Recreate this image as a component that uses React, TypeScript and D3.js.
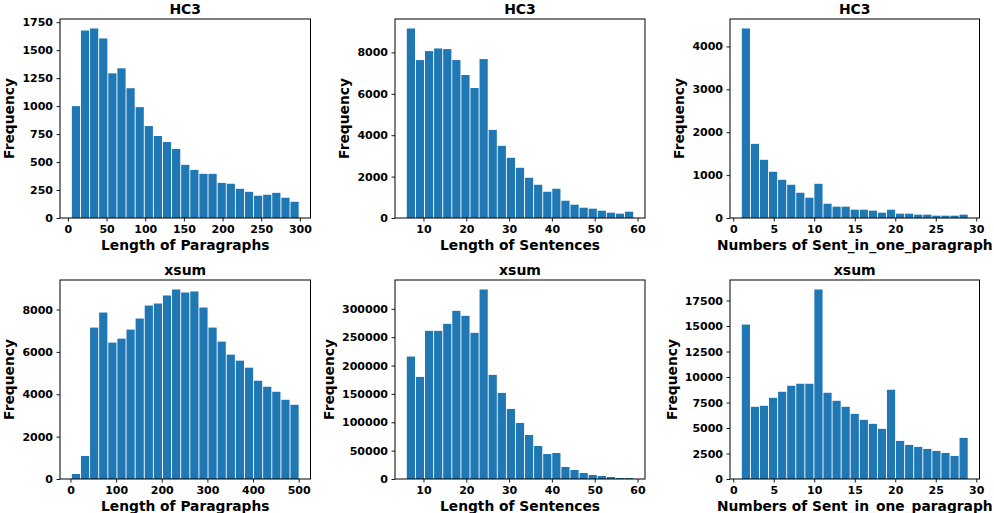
import React, { useEffect, useRef } from 'react';
import * as d3 from 'd3';

// histogram counts (25 bins each)
const hc3ParagraphCounts = [1000, 1676, 1694, 1605, 1293, 1338, 1160, 991, 822, 733, 679, 617, 475, 430, 395, 395, 314, 306, 261, 234, 199, 208, 225, 181, 145];
const hc3SentenceCounts = [9157, 7630, 8064, 8193, 8161, 7630, 6908, 6281, 7679, 4257, 3486, 2908, 2426, 1944, 1606, 1269, 1414, 835, 643, 498, 450, 353, 257, 209, 305];
const hc3SentPerParaCounts = [4419, 1729, 1357, 1078, 891, 775, 589, 473, 798, 333, 264, 264, 194, 194, 171, 124, 194, 101, 101, 78, 78, 54, 54, 54, 78];
const xsumParagraphCounts = [237, 1089, 7148, 7858, 6438, 6627, 7053, 7574, 8189, 8284, 8663, 8947, 8805, 8852, 8095, 7148, 6485, 5870, 5586, 5254, 4639, 4355, 4118, 3740, 3503];
const xsumSentenceCounts = [215882, 180000, 261176, 261176, 273529, 296470, 287647, 257647, 334117, 183529, 151764, 123529, 98823, 77647, 58235, 44117, 45882, 21176, 15882, 10588, 7058, 5294, 3529, 1764, 1764];
const xsumSentPerParaCounts = [15140, 7079, 7177, 7963, 8553, 9143, 9340, 9340, 18582, 8455, 7668, 7079, 6390, 5800, 5407, 4916, 8750, 3736, 3343, 3146, 2949, 2753, 2556, 2261, 4031];

// bin ranges (first edge, last edge)
const paragraphRangeHc3 = [4.5, 299];
const paragraphRangeXsum = [2, 501];
const sentenceRange = [6, 59.1];
const sentPerParaRange = [1, 29];

// tick values
const paraTicksHc3 = [0, 50, 100, 150, 200, 250, 300];
const paraTicksXsum = [0, 100, 200, 300, 400, 500];
const sentTicks = [10, 20, 30, 40, 50, 60];
const sentPerParaTicks = [0, 5, 10, 15, 20, 25, 30];
const yTicksHc3Para = [0, 250, 500, 750, 1000, 1250, 1500, 1750];
const yTicks8000 = [0, 2000, 4000, 6000, 8000];
const yTicksHc3Num = [0, 1000, 2000, 3000, 4000];
const yTicksXsumSent = [0, 50000, 100000, 150000, 200000, 250000, 300000];
const yTicksXsumNum = [0, 2500, 5000, 7500, 10000, 12500, 15000, 17500];

const titles = ['HC3', 'xsum'];
const xLabels = ['Length of Paragraphs', 'Length of Sentences', 'Numbers of Sent_in_one_paragraph'];

const panels = [
  { row: 0, col: 0, counts: hc3ParagraphCounts, range: paragraphRangeHc3, xTicks: paraTicksHc3, yTicks: yTicksHc3Para },
  { row: 0, col: 1, counts: hc3SentenceCounts, range: sentenceRange, xTicks: sentTicks, yTicks: yTicks8000 },
  { row: 0, col: 2, counts: hc3SentPerParaCounts, range: sentPerParaRange, xTicks: sentPerParaTicks, yTicks: yTicksHc3Num },
  { row: 1, col: 0, counts: xsumParagraphCounts, range: paragraphRangeXsum, xTicks: paraTicksXsum, yTicks: yTicks8000 },
  { row: 1, col: 1, counts: xsumSentenceCounts, range: sentenceRange, xTicks: sentTicks, yTicks: yTicksXsumSent },
  { row: 1, col: 2, counts: xsumSentPerParaCounts, range: sentPerParaRange, xTicks: sentPerParaTicks, yTicks: yTicksXsumNum },
];

const width = 994;
const height = 513;
const cols = [[60, 310.5], [395, 645], [730, 979.5]];
const rows = [[19, 218], [280, 479]];
const font = '"DejaVu Sans", sans-serif';

export default function App() {
  const svgRef = useRef<SVGSVGElement>(null);

  useEffect(() => {
    const svg = d3.select(svgRef.current);
    svg.selectAll('*').remove();

    panels.forEach((p) => {
      const [left, right] = cols[p.col];
      const [top, bottom] = rows[p.row];
      const [lo, hi] = p.range;
      const span = hi - lo;
      const n = p.counts.length;
      const bw = span / n;

      const x = d3
        .scaleLinear()
        .domain([lo - 0.05 * span, hi + 0.05 * span])
        .range([left, right]);
      const y = d3
        .scaleLinear()
        .domain([0, d3.max(p.counts) * 1.05])
        .range([bottom, top]);

      const g = svg.append('g');

      // bars (rwidth 0.9)
      g.selectAll('rect.bar')
        .data(p.counts)
        .enter()
        .append('rect')
        .attr('class', 'bar')
        .attr('x', (d, i) => x(lo + i * bw + 0.05 * bw))
        .attr('width', (d, i) => x(lo + (i + 1) * bw - 0.05 * bw) - x(lo + i * bw + 0.05 * bw))
        .attr('y', (d) => y(d))
        .attr('height', (d) => bottom - y(d))
        .attr('fill', '#1f77b4');

      // x axis
      const gx = g
        .append('g')
        .attr('transform', `translate(0,${bottom})`)
        .call(d3.axisBottom(x).tickValues(p.xTicks).tickFormat(d3.format('d')).tickSize(3.5).tickPadding(3.5));
      gx.select('.domain').remove();

      // y axis
      const gy = g
        .append('g')
        .attr('transform', `translate(${left},0)`)
        .call(d3.axisLeft(y).tickValues(p.yTicks).tickFormat(d3.format('d')).tickSize(3.5).tickPadding(3.5));
      gy.select('.domain').remove();

      [gx, gy].forEach((ax) => {
        ax.attr('font-family', font).attr('font-size', 11).attr('font-weight', 'bold');
        ax.selectAll('line').attr('stroke', '#000').attr('stroke-width', 0.9);
        ax.selectAll('text').attr('fill', '#000');
      });

      // frame
      g.append('rect')
        .attr('x', left)
        .attr('y', top)
        .attr('width', right - left)
        .attr('height', bottom - top)
        .attr('fill', 'none')
        .attr('stroke', '#000')
        .attr('stroke-width', 1);

      // title
      g.append('text')
        .attr('x', (left + right) / 2)
        .attr('y', top - 5.5)
        .attr('text-anchor', 'middle')
        .attr('font-family', font)
        .attr('font-size', 14)
        .attr('font-weight', 'bold')
        .text(titles[p.row]);

      // x label
      g.append('text')
        .attr('x', (left + right) / 2)
        .attr('y', bottom + 32)
        .attr('text-anchor', 'middle')
        .attr('font-family', font)
        .attr('font-size', 13.8)
        .attr('font-weight', 'bold')
        .text(xLabels[p.col]);

      // y label, placed left of the widest tick label
      const box = (gy.node() as SVGGElement).getBBox();
      const lx = left + box.x - 8;
      g.append('text')
        .attr('transform', `translate(${lx},${(top + bottom) / 2}) rotate(-90)`)
        .attr('text-anchor', 'middle')
        .attr('font-family', font)
        .attr('font-size', 13.8)
        .attr('font-weight', 'bold')
        .text('Frequency');
    });
  }, []);

  return (
    <div style={{ position: 'absolute', left: 0, top: 0 }}>
      <svg ref={svgRef} width={width} height={height} style={{ display: 'block', background: '#fff' }}></svg>
    </div>
  );
}
